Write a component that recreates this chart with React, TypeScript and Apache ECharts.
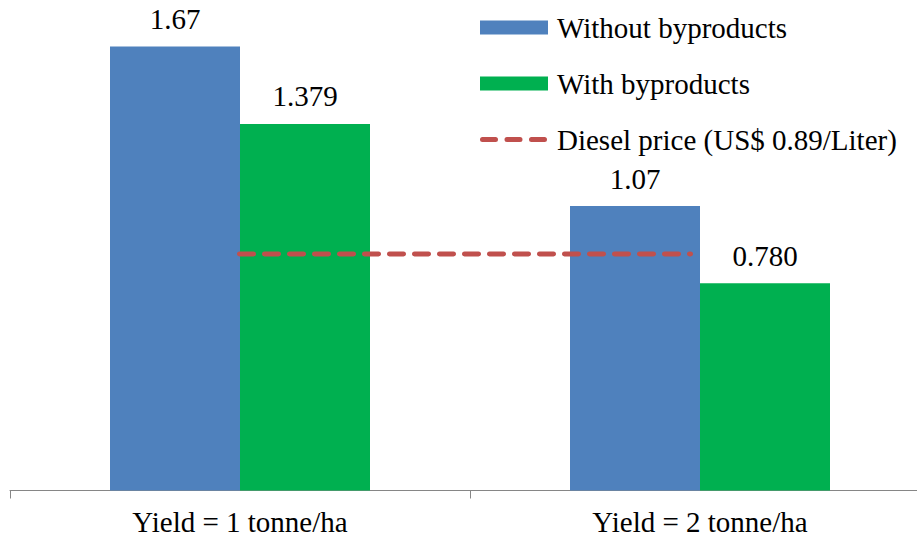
import React, { useEffect, useRef } from "react";
import * as echarts from "echarts";

const categories = ["Yield = 1 tonne/ha", "Yield = 2 tonne/ha"];
const withoutByproducts = [1.67, 1.07];
const withByproducts = [1.379, 0.78];
const withByproductsLabels = ["1.379", "0.780"];
const dieselPrice = [0.89, 0.89];
const seriesNames = ["Without byproducts", "With byproducts", "Diesel price (US$ 0.89/Liter)"];

const FONT = "Liberation Serif";
const FS = 29;

const DASH_ICON =
  "path://M0,0 L0.1,0 L0.1,0.05 Z M68,14 L67.9,14 L67.9,13.95 Z " +
  "M2.5,4.5 h13 a2.5,2.5 0 0 1 0,5 h-13 a2.5,2.5 0 0 1 0,-5 Z " +
  "M27,4.5 h13 a2.5,2.5 0 0 1 0,5 h-13 a2.5,2.5 0 0 1 0,-5 Z " +
  "M51.5,4.5 h13 a2.5,2.5 0 0 1 0,5 h-13 a2.5,2.5 0 0 1 0,-5 Z";

export default function App() {
  const ref = useRef<HTMLDivElement>(null);
  useEffect(() => {
    if (!ref.current) return;
    const chart = echarts.init(ref.current, undefined, { renderer: "svg" });
    const labelStyle = {
      show: true,
      position: "top" as const,
      distance: 13,
      color: "#000",
      fontFamily: FONT,
      fontSize: FS,
    };
    chart.setOption({
      animation: false,
      backgroundColor: "#fff",
      textStyle: { fontFamily: FONT },
      grid: [
        { left: 10, right: 0, top: 12, height: 478.5 },
        { left: 14, width: 902, top: 12, height: 478.5 },
      ],
      legend: {
        orient: "vertical",
        left: 475,
        top: 8,
        itemWidth: 68,
        itemHeight: 14,
        itemGap: 27,
        data: [
          { name: seriesNames[0], icon: "rect" },
          { name: seriesNames[1], icon: "rect" },
          { name: seriesNames[2], icon: DASH_ICON },
        ],
        textStyle: {
          color: "#000",
          fontFamily: FONT,
          fontSize: FS,
          lineHeight: 28,
          padding: [0, 0, 0, 4],
        },
      },
      xAxis: [
        {
          type: "category",
          gridIndex: 0,
          data: categories,
          axisLine: { show: true, lineStyle: { color: "#868686", width: 1 } },
          axisTick: { show: true, length: 8, lineStyle: { color: "#868686" } },
          axisLabel: { color: "#000", fontFamily: FONT, fontSize: FS, margin: 17 },
        },
        {
          type: "category",
          gridIndex: 1,
          data: categories,
          show: false,
        },
      ],
      yAxis: [
        { type: "value", gridIndex: 0, min: 0, max: 1.8, show: false, splitLine: { show: false } },
        { type: "value", gridIndex: 1, min: 0, max: 1.8, show: false, splitLine: { show: false } },
      ],
      series: [
        {
          name: seriesNames[0],
          type: "bar",
          data: withoutByproducts,
          barWidth: 130,
          barGap: "0%",
          itemStyle: { color: "#4F81BD" },
          label: { ...labelStyle },
        },
        {
          name: seriesNames[1],
          type: "bar",
          data: withByproducts,
          barWidth: 130,
          barGap: "0%",
          itemStyle: { color: "#00B050" },
          label: {
            ...labelStyle,
            formatter: (p: any) => withByproductsLabels[p.dataIndex],
          },
        },
        {
          name: seriesNames[2],
          type: "line",
          xAxisIndex: 1,
          yAxisIndex: 1,
          data: dieselPrice,
          symbol: "none",
          showSymbol: false,
          z: 5,
          lineStyle: { color: "#C0504D", width: 5, type: [14, 11], cap: "round" },
          itemStyle: { color: "#C0504D" },
        },
      ],
    });
    return () => chart.dispose();
  }, []);
  return (
    <div
      style={{
        position: "absolute",
        left: 0,
        top: 0,
        width: 917,
        height: 540,
        overflow: "hidden",
      }}
    >
      <div ref={ref} style={{ width: 930, height: 540 }} />
    </div>
  );
}
